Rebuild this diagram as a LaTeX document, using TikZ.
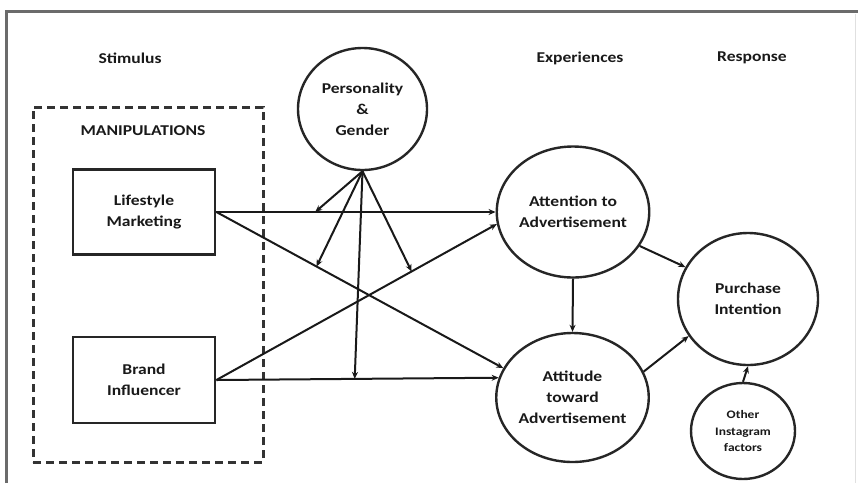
\documentclass[tikz,border=0pt]{standalone}
\usepackage{fontspec}
\setmainfont{Carlito}[FakeStretch=1.17]
\usetikzlibrary{shapes.geometric,arrows.meta}
\definecolor{framegray}{HTML}{6B6B6B}
\begin{document}
\begin{tikzpicture}[x=1pt,y=-1pt,
  txt/.style={font=\fontsize{15}{21}\selectfont\bfseries, text=black!90, align=center, inner sep=0pt},
  boxnode/.style={draw=black!85, line width=2.8pt, minimum width=142pt, minimum height=85pt, txt},
  circ/.style={ellipse, draw=black!85, line width=2.4pt, inner sep=0pt, txt},
  conn/.style={draw=black!90, line width=2pt, -{Stealth[length=7pt,width=6pt]}},
  dashbox/.style={draw=black!80, line width=3pt, dash pattern=on 8pt off 5pt, inner sep=0pt}
]
\fill[white] (0,0) rectangle (858,483);
\useasboundingbox (0,0) rectangle (858,483);
\draw[framegray, line width=3pt] (6,483) -- (6,11.5) -- (858,11.5);
\draw[black!12, line width=0.8pt] (855,14) -- (855,483);

\node[txt] (hs) at (130,58) {Stimulus};
\node[txt] (he) at (580,58) {Experiences};
\node[txt] (hr) at (752,58) {Response};

\node[dashbox, minimum width=230pt, minimum height=355pt] (manip) at (148,284.5) {};
\node[txt] (mt) at (143,131) {MANIPULATIONS};

\node[boxnode] (lm) at (144,212) {Lifestyle\\Marketing};
\node[boxnode, minimum height=86pt] (bi) at (144,380) {Brand\\Influencer};

\node[circ, minimum width=129pt, minimum height=122pt] (pg) at (362.5,109) {Personality\\\&\\Gender};
\node[circ, minimum width=140pt, minimum height=131pt] (att) at (573,212) {Attention to\\Advertisement};
\node[circ, minimum width=139pt, minimum height=129pt] (atd) at (572.5,397.5) {Attitude\\toward\\Advertisement};
\node[circ, minimum width=140pt, minimum height=132pt] (pi) at (748,299) {Purchase\\Intention};
\node[circ, minimum width=104pt, minimum height=96pt, font=\fontsize{11.5}{16.5}\selectfont\bfseries] (oi) at (743,431) {Other\\Instagram\\factors};

\draw[conn] (lm.east) -- (att.west) coordinate[pos=0.354] (m1);
\draw[conn] (lm.east) -- (atd.157) coordinate[pos=0.349] (m2);
\draw[conn] (bi.east) -- (att.189) coordinate[pos=0.696] (m4);
\draw[conn] (bi.east) -- (atd.165.3) coordinate[pos=0.49] (m3);

\draw[conn] (pg.south) -- (m1);
\draw[conn] (pg.south) -- (m2);
\draw[conn] (pg.south) -- (m3);
\draw[conn] (pg.south) -- (m4);

\draw[conn] (att.south) -- (atd.north);
\draw[conn] (att.-27) -- (pi.153);
\draw[conn] (atd.20) -- (pi.212);
\draw[conn] (oi.north) -- (pi.south);
\end{tikzpicture}
\end{document}
